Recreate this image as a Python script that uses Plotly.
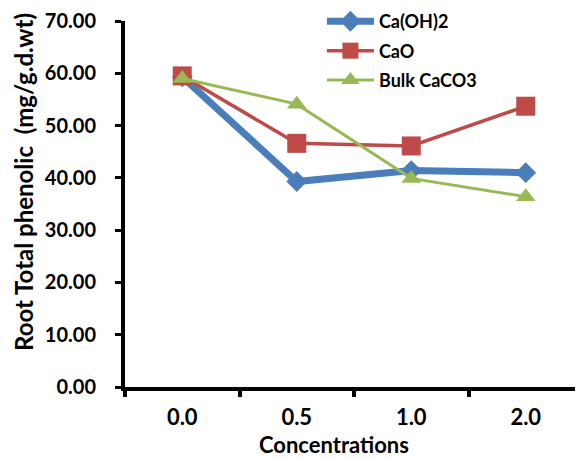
import plotly.graph_objects as go

categories = ["0.0", "0.5", "1.0", "2.0"]
caoh2 = [59.3, 39.3, 41.4, 41.0]
cao = [59.5, 46.6, 46.1, 53.7]
bulk_caco3 = [59.0, 54.1, 39.9, 36.4]
y_ticks = [0, 10, 20, 30, 40, 50, 60, 70]
y_ticklabels = ["%.2f" % v for v in y_ticks]

FONT = "Lato"

fig = go.Figure()
fig.add_trace(go.Scatter(
    x=categories, y=caoh2, name="Ca(OH)2", mode="lines+markers", legendgroup="a",
    line=dict(color="#4A7EBB", width=7),
    marker=dict(symbol="diamond", size=16, color="#4A7EBB")))
fig.add_trace(go.Scatter(
    x=categories, y=cao, name="CaO", mode="lines+markers", legendgroup="b",
    line=dict(color="#BE4B48", width=3.5),
    marker=dict(symbol="square", size=19, color="#BE4B48")))
fig.add_trace(go.Scatter(
    x=categories, y=bulk_caco3, name="Bulk CaCO3", mode="lines+markers", legendgroup="c",
    line=dict(color="#98B954", width=3),
    marker=dict(symbol="triangle-up", size=17, color="#98B954")))

fig.update_layout(
    width=575, height=450,
    margin=dict(l=117, r=0, t=13, b=71, autoexpand=False),
    paper_bgcolor="white", plot_bgcolor="white",
    font=dict(family=FONT, size=16, color="black"),
    showlegend=True,
    legend=dict(x=0.43, y=1.049, xanchor="left", yanchor="top",
                bgcolor="rgba(0,0,0,0)",
                font=dict(family=FONT, size=18, color="black", weight="bold"),
                traceorder="grouped", tracegroupgap=3, itemwidth=47),
    xaxis=dict(
        type="category", range=[-0.5, 3.5],
        showline=True, linecolor="black", linewidth=4,
        ticks="outside", tickson="boundaries", ticklen=6, tickwidth=4, tickcolor="black",
        showgrid=False, zeroline=False,
        tickfont=dict(family=FONT, size=22, color="black", weight="bold"),
        ticklabelstandoff=8,
    ),
    yaxis=dict(
        range=[0, 70], tickvals=y_ticks, ticktext=y_ticklabels,
        showline=True, linecolor="black", linewidth=4,
        ticks="outside", ticklen=6, tickwidth=3, tickcolor="black",
        showgrid=False, zeroline=False,
        tickfont=dict(family=FONT, size=20, color="black", weight="bold"),
        ticklabelstandoff=15,
    ),
)

fig.add_annotation(
    text="Root Total phenolic  (mg/g.d.wt)", textangle=-90,
    xref="paper", yref="paper", x=-0.223, y=0.56, xanchor="center", yanchor="middle",
    showarrow=False, font=dict(family=FONT, size=24, color="black", weight="bold"))
fig.add_annotation(
    text="Concentrations",
    xref="paper", yref="paper", x=0.456, y=-0.158, xanchor="center", yanchor="middle",
    showarrow=False, font=dict(family=FONT, size=22, color="black", weight="bold"))

fig.write_html("out.html")
